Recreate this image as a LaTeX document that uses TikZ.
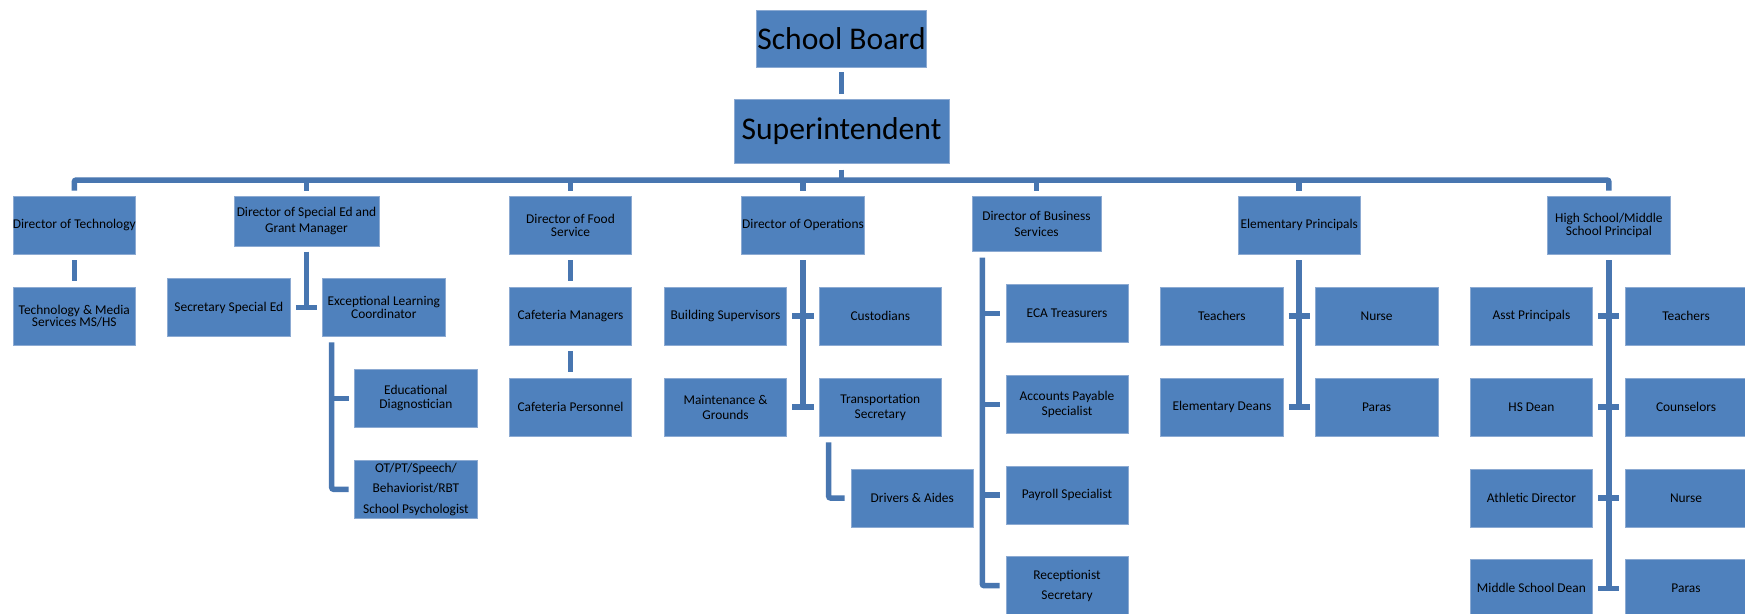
\documentclass[tikz,border=0pt]{standalone}
\usepackage{fontspec}
\setmainfont{Carlito}
\definecolor{boxfill}{RGB}{79,129,189}
\definecolor{boxedge}{RGB}{140,170,210}
\definecolor{conncol}{RGB}{72,118,176}
\tikzset{
  orgbox/.style={rectangle, fill=boxfill, draw=boxedge, line width=0.6pt, inner sep=0pt,
    align=center, text=black, minimum width=122.4pt, minimum height=58pt,
    font=\fontsize{13.4}{15}\selectfont},
  sz/.style 2 args={minimum width=#1pt, minimum height=#2pt},
  lsk/.style={font=\fontsize{13.4}{#1}\selectfont},
  big/.style={font=\fontsize{31.6}{36}\selectfont},
  conn/.style={draw=conncol, line width=5.5pt},
  connr/.style={draw=conncol, line width=5.5pt, rounded corners=2pt}
}
\begin{document}
\begin{tikzpicture}[x=1pt,y=-1pt]
\useasboundingbox (0,0) rectangle (1745,613);
\clip (0,0) rectangle (1745,613);
\fill[white] (0,0) rectangle (1745,613);
% top
\node[orgbox, big, sz={170}{57}] (SB) at (841.5,38.5) {School Board};
\node[orgbox, big, sz={215}{64.4}] (Supt) at (841.5,131.5) {Superintendent};
% level 1
\node[orgbox, sz={122.5}{58.7}] (DirTech) at (74.3,225.3) {Director of Technology};
\node[orgbox, sz={145}{50}, lsk=16.3] (DirSpEd) at (306.5,221) {Director of Special Ed and\\Grant Manager};
\node[orgbox, sz={122.3}{58.7}, lsk=13.7] (Food) at (570.5,225.3) {Director of Food\\Service};
\node[orgbox, sz={122.8}{58.7}] (Ops) at (803,225.3) {Director of Operations};
\node[orgbox, sz={129.3}{55.7}, lsk=15.7] (Bus) at (1036.5,223.8) {Director of Business\\Services};
\node[orgbox, sz={122.4}{58.7}] (Elem) at (1299.2,225.3) {Elementary Principals};
\node[orgbox, sz={122.3}{58.7}, lsk=13.7] (HS) at (1608.9,225.3) {High School/Middle\\School Principal};
% level 2
\node[orgbox, sz={122.5}{58}, lsk=12] (TechMedia) at (74.3,316) {Technology \& Media\\Services MS/HS};
\node[orgbox] (SecSpEd) at (228.8,307.5) {Secretary Special Ed};
\node[orgbox, lsk=13.3] (Exc) at (383.8,307.5) {Exceptional Learning\\Coordinator};
\node[orgbox] (CafMgr) at (570.5,316) {Cafeteria Managers};
\node[orgbox] (Bldg) at (725.5,316) {Building Supervisors};
\node[orgbox] (Cust) at (880.3,316) {Custodians};
\node[orgbox] (ECA) at (1067,313.5) {ECA Treasurers};
\node[orgbox] (TeachE) at (1221.9,316) {Teachers};
\node[orgbox] (NurseE) at (1376.6,316) {Nurse};
\node[orgbox] (AsstP) at (1531.4,316) {Asst Principals};
\node[orgbox] (TeachH) at (1686,316) {Teachers};
% level 3
\node[orgbox, lsk=14.3] (EdDiag) at (415.9,398.3) {Educational\\Diagnostician};
\node[orgbox] (CafPers) at (570.5,407) {Cafeteria Personnel};
\node[orgbox] (Maint) at (725.5,407) {Maintenance \&\\Grounds};
\node[orgbox] (Trans) at (880.3,407) {Transportation\\Secretary};
\node[orgbox] (AP) at (1067,404.3) {Accounts Payable\\Specialist};
\node[orgbox] (ElemDeans) at (1221.9,407) {Elementary Deans};
\node[orgbox] (ParasE) at (1376.6,407) {Paras};
\node[orgbox] (HSDean) at (1531.4,407) {HS Dean};
\node[orgbox] (Couns) at (1686,407) {Counselors};
% level 4
\node[orgbox, lsk=20.5] (OT) at (415.9,489.3) {OT/PT/Speech/\\Behaviorist/RBT\\School Psychologist};
\node[orgbox] (Drivers) at (912.2,498) {Drivers \& Aides};
\node[orgbox] (Payroll) at (1067,495) {Payroll Specialist};
\node[orgbox] (Athl) at (1531.4,498) {Athletic Director};
\node[orgbox] (NurseH) at (1686,498) {Nurse};
% level 5
\node[orgbox, lsk=20] (Recep) at (1067,585.7) {Receptionist\\Secretary};
\node[orgbox] (MSDean) at (1531.4,588.3) {Middle School Dean};
\node[orgbox] (ParasH) at (1686,588.3) {Paras};
% connectors: top
\coordinate (bar) at (0,180);
\draw[conn] ([yshift=-5pt]SB.south) -- ([yshift=5pt]SB.south |- Supt.north);
\draw[conn] ([yshift=-5.6pt]Supt.south) -- (Supt.south |- bar);
\draw[connr] ([yshift=5pt]DirTech.north) -- (DirTech.north |- bar) -- (HS.north |- bar) -- ([yshift=5pt]HS.north);
\foreach \n in {DirSpEd,Food,Ops,Bus,Elem}
  \draw[conn] (\n.north |- bar) -- ([yshift=5pt]\n.north);
% technology, food
\draw[conn] ([yshift=-5.3pt]DirTech.south) -- ([yshift=5.3pt]TechMedia.north);
\draw[conn] ([yshift=-5.3pt]Food.south) -- ([yshift=5.3pt]CafMgr.north);
\draw[conn] ([yshift=-6pt]CafMgr.south) -- ([yshift=5.7pt]CafPers.north);
% special ed
\draw[conn] ([yshift=-5.3pt]DirSpEd.south) -- (DirSpEd.south |- SecSpEd.east);
\draw[conn] ([xshift=5.5pt]SecSpEd.east) -- ([xshift=-5.5pt]Exc.west);
\coordinate (excx) at ([xshift=9.4pt]Exc.south west);
\draw[connr] ([yshift=-5.6pt]excx) -- (excx |- OT.west) -- ([xshift=-5.8pt]OT.west);
\draw[conn] (excx |- EdDiag.west) -- ([xshift=-5.8pt]EdDiag.west);
% operations
\draw[conn] ([yshift=-5.3pt]Ops.south) -- (Ops.south |- Maint.east);
\draw[conn] ([xshift=5.3pt]Bldg.east) -- ([xshift=-5.3pt]Cust.west);
\draw[conn] ([xshift=5.3pt]Maint.east) -- ([xshift=-5.3pt]Trans.west);
\coordinate (trx) at ([xshift=9.8pt]Trans.south west);
\draw[connr] ([yshift=-6pt]trx) -- (trx |- Drivers.west) -- ([xshift=-6pt]Drivers.west);
% business
\coordinate (busx) at ([xshift=10.7pt]Bus.south west);
\draw[connr] ([yshift=-5.6pt]busx) -- (busx |- Recep.west) -- ([xshift=-6pt]Recep.west);
\foreach \n in {ECA,AP,Payroll}
  \draw[conn] (busx |- \n.west) -- ([xshift=-6pt]\n.west);
% elementary
\draw[conn] ([yshift=-5.3pt]Elem.south) -- (Elem.south |- ElemDeans.east);
\draw[conn] ([xshift=5.3pt]TeachE.east) -- ([xshift=-5.3pt]NurseE.west);
\draw[conn] ([xshift=5.3pt]ElemDeans.east) -- ([xshift=-5.3pt]ParasE.west);
% high school
\draw[conn] ([yshift=-5.3pt]HS.south) -- (HS.south |- MSDean.east);
\draw[conn] ([xshift=5.3pt]AsstP.east) -- ([xshift=-5.3pt]TeachH.west);
\draw[conn] ([xshift=5.3pt]HSDean.east) -- ([xshift=-5.3pt]Couns.west);
\draw[conn] ([xshift=5.3pt]Athl.east) -- ([xshift=-5.3pt]NurseH.west);
\draw[conn] ([xshift=5.3pt]MSDean.east) -- ([xshift=-5.3pt]ParasH.west);
\end{tikzpicture}
\end{document}
